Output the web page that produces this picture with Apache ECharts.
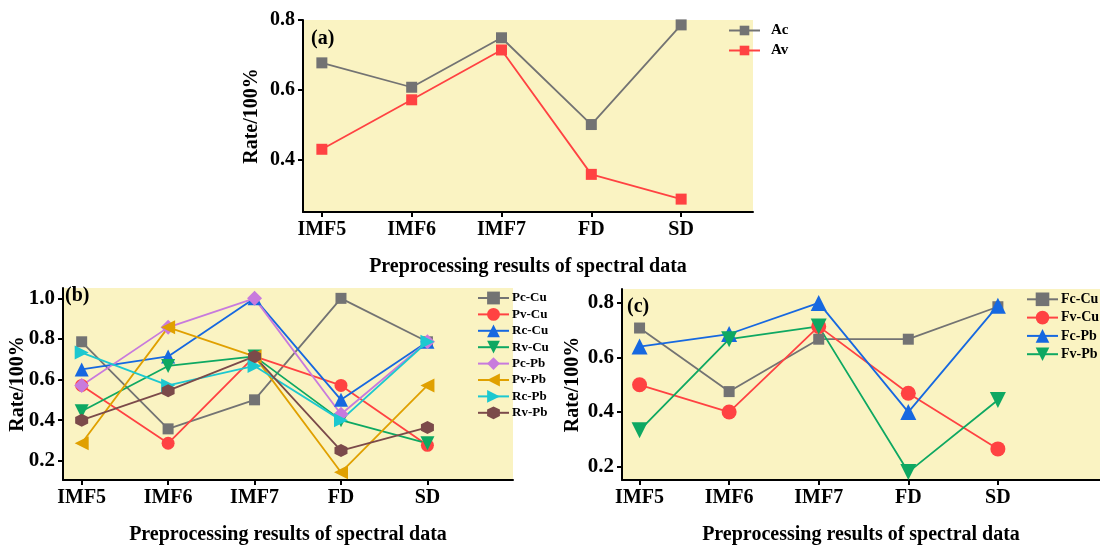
<!DOCTYPE html>
<html>
<head>
<meta charset="utf-8">
<script src="https://cdn.jsdelivr.net/npm/echarts@6/dist/echarts.min.js"></script>
<style>
html, body { margin: 0; padding: 0; background: #fff; }
#chart { width: 1100px; height: 546px; }
</style>
</head>
<body>
<div id="chart"></div>
<script>
// categories on the x axis (positions 1..5)
const categories = ["IMF5", "IMF6", "IMF7", "FD", "SD"];

// (a)
const ac = [0.677, 0.607, 0.749, 0.5, 0.786];
const av = [0.429, 0.571, 0.714, 0.357, 0.286];

// (b)
const pcCu = [0.786, 0.357, 0.5, 1.0, 0.786];
const pvCu = [0.571, 0.286, 0.714, 0.571, 0.276];
const rcCu = [0.65, 0.714, 1.0, 0.5, 0.786];
const rvCu = [0.444, 0.667, 0.714, 0.4, 0.286];
const pcPb = [0.571, 0.857, 1.0, 0.429, 0.786];
const pvPb = [0.286, 0.857, 0.714, 0.143, 0.571];
const rcPb = [0.733, 0.571, 0.667, 0.4, 0.786];
const rvPb = [0.4, 0.545, 0.714, 0.25, 0.364];

// (c)
const fcCu = [0.708, 0.475, 0.667, 0.667, 0.786];
const fvCu = [0.5, 0.4, 0.714, 0.469, 0.265];
const fcPb = [0.64, 0.686, 0.8, 0.4, 0.79];
const fvPb = [0.333, 0.667, 0.714, 0.18, 0.444];

// y tick labels
const ticksA = [0.4, 0.6, 0.8];
const ticksB = [0.2, 0.4, 0.6, 0.8, 1.0];
const ticksC = [0.2, 0.4, 0.6, 0.8];

const FONT = "Liberation Serif";
const GRAY = "#737373";
const RED = "#ff4242";
const BLUE = "#1668e0";
const GREEN = "#0ea862";
const PURPLE = "#c87add";
const ORANGE = "#e0a000";
const CYAN = "#1cc8d0";
const BROWN = "#7b4a4a";

const HEX = "path://M0,-10 L8.66,-5 L8.66,5 L0,10 L-8.66,5 L-8.66,-5 Z";
const TRI_DOWN = "path://M0,0 L10,0 L5,9 Z";
const TRI_LEFT = "path://M0,5 L9,0 L9,10 Z";
const TRI_RIGHT = "path://M0,0 L9,5 L0,10 Z";

const pts = function (arr) {
    return arr.map((v, i) => [i + 1, v]);
};

const make_x = function (gridIndex, min, max) {
    return {
        type: "value",
        gridIndex: gridIndex,
        min: min,
        max: max,
        name: "Preprocessing results of spectral data",
        nameLocation: "middle",
        nameGap: 45,
        nameMoveOverlap: false,
        nameTextStyle: { fontFamily: FONT, fontWeight: "bold", fontSize: 20, color: "#000" },
        splitLine: { show: false },
        axisLine: { onZero: false, lineStyle: { color: "#000", width: 2 } },
        axisTick: { customValues: [1, 2, 3, 4, 5], length: 5, lineStyle: { color: "#000", width: 2 } },
        axisLabel: {
            customValues: [1, 2, 3, 4, 5],
            formatter: (v) => categories[Math.round(v) - 1],
            fontFamily: FONT,
            fontWeight: "bold",
            fontSize: 20,
            color: "#000",
            margin: 8,
        },
    };
};

const make_y = function (gridIndex, min, max, ticks, gap, fontSize) {
    return {
        type: "value",
        gridIndex: gridIndex,
        min: min,
        max: max,
        name: "Rate/100%",
        nameLocation: "middle",
        nameGap: gap,
        nameMoveOverlap: false,
        nameTextStyle: { fontFamily: FONT, fontWeight: "bold", fontSize: 20, color: "#000" },
        splitLine: { show: false },
        axisLine: { show: true, onZero: false, lineStyle: { color: "#000", width: 2 } },
        axisTick: { show: true, customValues: ticks, length: 5, lineStyle: { color: "#000", width: 2 } },
        axisLabel: {
            customValues: ticks,
            formatter: (v) => v.toFixed(1),
            fontFamily: FONT,
            fontWeight: "bold",
            fontSize: fontSize,
            color: "#000",
            margin: 8,
        },
    };
};

const make_series = function (name, data, idx, color, symbol, size) {
    return {
        name: name,
        type: "line",
        xAxisIndex: idx,
        yAxisIndex: idx,
        data: pts(data),
        symbol: symbol,
        symbolSize: size,
        showAllSymbol: true,
        lineStyle: { color: color, width: 1.8 },
        itemStyle: { color: color, opacity: 1 },
        emphasis: { disabled: true },
        animation: false,
    };
};

const make_legend = function (names, left, top, gap, fontSize, itemHeight, textGap) {
    return {
        data: names,
        orient: "vertical",
        left: left,
        top: top,
        itemGap: gap,
        itemWidth: 31,
        itemHeight: itemHeight,
        padding: 0,
        textStyle: {
            fontFamily: FONT,
            fontWeight: "bold",
            fontSize: fontSize,
            color: "#000",
            padding: [0, 0, 0, textGap],
        },
    };
};

const panel_label = function (text, left, top) {
    return {
        type: "text",
        left: left,
        top: top,
        style: { text: text, fontFamily: FONT, fontWeight: "bold", fontSize: 20, fill: "#000" },
    };
};

const gridStyle = { show: true, backgroundColor: "#faf3c2", borderWidth: 0, outerBoundsMode: "none" };

const config = {
    textStyle: { fontFamily: FONT },
    grid: [
        Object.assign({ left: 303, top: 20, width: 450, height: 192 }, gridStyle),
        Object.assign({ left: 63, top: 288, width: 450, height: 192 }, gridStyle),
        Object.assign({ left: 622, top: 289, width: 478, height: 191 }, gridStyle),
    ],
    xAxis: [make_x(0, 0.79, 5.8), make_x(1, 0.784, 5.99), make_x(2, 0.804, 6.14)],
    yAxis: [
        make_y(0, 0.249, 0.8, ticksA, 41, 20),
        make_y(1, 0.105, 1.051, ticksB, 35, 21),
        make_y(2, 0.151, 0.851, ticksC, 39, 21),
    ],
    legend: [
        make_legend(["Ac", "Av"], 728, 23, 5, 15, 12, 6),
        make_legend(["Pc-Cu", "Pv-Cu", "Rc-Cu", "Rv-Cu", "Pc-Pb", "Pv-Pb", "Rc-Pb", "Rv-Pb"], 477, 291.5, 3.4, 13, 16, -2),
        make_legend(["Fc-Cu", "Fv-Cu", "Fc-Pb", "Fv-Pb"], 1026, 292.3, 4.3, 14, 17, -2),
    ],
    graphic: [panel_label("(a)", 311, 29), panel_label("(b)", 65, 286), panel_label("(c)", 627, 297)],
    series: [
        make_series("Ac", ac, 0, GRAY, "rect", 11),
        make_series("Av", av, 0, RED, "rect", 11),

        make_series("Pc-Cu", pcCu, 1, GRAY, "rect", 11),
        make_series("Pv-Cu", pvCu, 1, RED, "circle", 13),
        make_series("Rc-Cu", rcCu, 1, BLUE, "triangle", 14),
        make_series("Rv-Cu", rvCu, 1, GREEN, TRI_DOWN, 14),
        make_series("Pc-Pb", pcPb, 1, PURPLE, "diamond", 15),
        make_series("Pv-Pb", pvPb, 1, ORANGE, TRI_LEFT, 14),
        make_series("Rc-Pb", rcPb, 1, CYAN, TRI_RIGHT, 14),
        make_series("Rv-Pb", rvPb, 1, BROWN, HEX, 13),

        make_series("Fc-Cu", fcCu, 2, GRAY, "rect", 11),
        make_series("Fv-Cu", fvCu, 2, RED, "circle", 15),
        make_series("Fc-Pb", fcPb, 2, BLUE, "triangle", 16),
        make_series("Fv-Pb", fvPb, 2, GREEN, TRI_DOWN, 16),
    ],
};

const chart = echarts.init(document.getElementById("chart"));
chart.setOption(config);
</script>
</body>
</html>
